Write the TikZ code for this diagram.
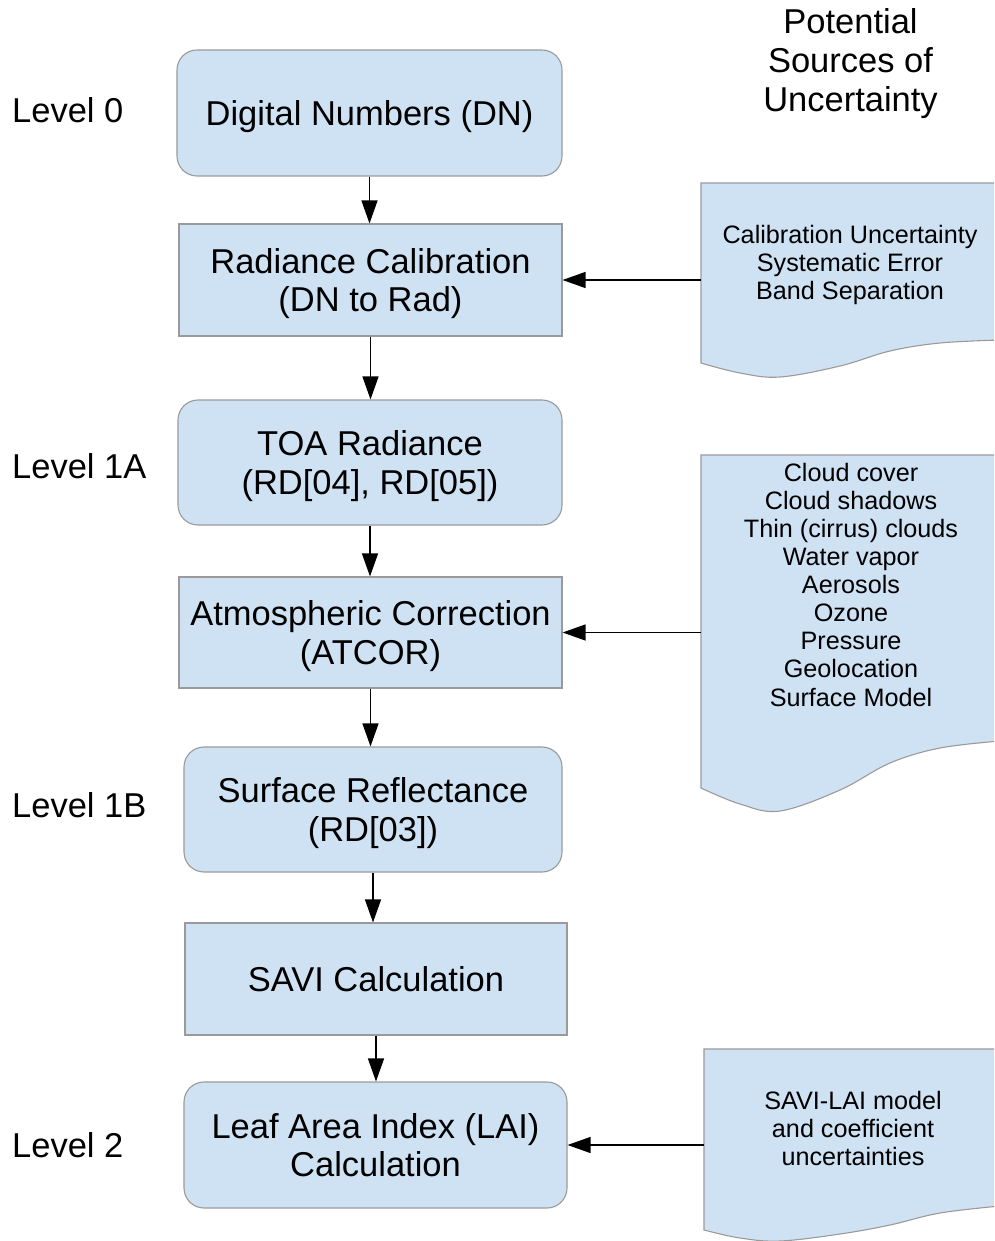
\documentclass[tikz,border=0pt]{standalone}
\usepackage{fontspec}
\setmainfont{Liberation Sans}
\usetikzlibrary{arrows.meta}
\definecolor{boxfill}{HTML}{CFE2F3}
\definecolor{boxline}{HTML}{9A9A9A}

\begin{document}
\begin{tikzpicture}[x=1pt,y=-1pt,
  bigtext/.style={font=\fontsize{34.5}{38.5}\selectfont},
  smalltext/.style={font=\fontsize{25.2}{28.1}\selectfont},
  stage/.style={draw=boxline, fill=boxfill, line width=1.1pt, align=center,
    inner sep=0pt, text depth=0pt, bigtext},
  roundstage/.style={stage, rounded corners=20pt},
  docshape/.style={draw=boxline, fill=boxfill, line width=1.1pt},
  doctext/.style={align=center, inner sep=0pt, text depth=0pt, smalltext},
  levellabel/.style={anchor=west, inner sep=0pt, text depth=0pt, bigtext},
  conn/.style={-{Triangle[length=23pt,width=16pt]}, line width=1.2pt, black}]

\useasboundingbox (0,0) rectangle (994,1241);
\fill[white] (0,0) rectangle (994,1241);

\begin{scope}
\clip (0,0) rectangle (994,1241);

% processing chain
\node[roundstage, minimum width=385pt, minimum height=126pt] (dn)   at (369.5,113) {Digital Numbers (DN)};
\node[stage,      minimum width=383pt, minimum height=112pt] (cal)  at (370.5,280) {Radiance Calibration\\(DN to Rad)};
\node[roundstage, minimum width=384pt, minimum height=125pt] (toa)  at (370,462.5) {TOA Radiance\\(RD[04], RD[05])};
\node[stage,      minimum width=383pt, minimum height=111pt] (atm)  at (370.5,632.5) {Atmospheric Correction\\(ATCOR)};
\node[roundstage, minimum width=378pt, minimum height=125pt] (sr)   at (373,809.5) {Surface Reflectance\\(RD[03])};
\node[stage,      minimum width=382pt, minimum height=112pt] (savi) at (376,979) {SAVI Calculation};
\node[roundstage, minimum width=383pt, minimum height=126pt] (lai)  at (375.5,1145) {Leaf Area Index (LAI)\\Calculation};

\foreach \a/\b in {dn/cal, cal/toa, toa/atm, atm/sr, sr/savi, savi/lai}
  \draw[conn] (\a.south) -- (\a.south |- \b.north);

% processing levels
\node[levellabel] (lv0)  at (12,110)  {Level 0};
\node[levellabel] (lv1a) at (12,466)  {Level 1A};
\node[levellabel] (lv1b) at (12,805)  {Level 1B};
\node[levellabel] (lv2)  at (12,1145) {Level 2};

% column heading
\node[align=center, inner sep=0pt, text depth=0pt, font=\fontsize{34.5}{39}\selectfont] (head) at (850.5,60)
  {Potential\\Sources of\\Uncertainty};

% uncertainty sources (document shapes)
\filldraw[docshape] (701,183) -- (1010,183) -- (1010,339)
  -- plot[smooth, tension=0.6] coordinates {(1000,340) (940,343) (890,351) (840,366) (780,377) (740,373) (701,363)} -- cycle;
\filldraw[docshape] (701,455) -- (1010,455) -- (1010,741)
  -- plot[smooth, tension=0.6] coordinates {(1000,741) (940,748) (890,763) (840,790) (780,811) (740,804) (701,788)} -- cycle;
\filldraw[docshape] (704,1049) -- (1010,1049) -- (1010,1206)
  -- plot[smooth, tension=0.6] coordinates {(1000,1206) (940,1213) (890,1225) (840,1234) (780,1241) (740,1238) (704,1230)} -- cycle;

\node[doctext] (src1) at (850,262) {Calibration Uncertainty\\Systematic Error\\Band Separation};
\node[doctext] (src2) at (851,584.5) {Cloud cover\\Cloud shadows\\Thin (cirrus) clouds\\Water vapor\\Aerosols\\Ozone\\Pressure\\Geolocation\\Surface Model};
\node[doctext] (src3) at (853,1128) {SAVI-LAI model\\and coefficient\\uncertainties};

\coordinate (d1) at (701,280);
\coordinate (d2) at (701,632.5);
\coordinate (d3) at (704,1145);

\draw[conn] (d1) -- (cal.east);
\draw[conn] (d2) -- (atm.east);
\draw[conn] (d3) -- (lai.east);
\end{scope}
\end{tikzpicture}
\end{document}
